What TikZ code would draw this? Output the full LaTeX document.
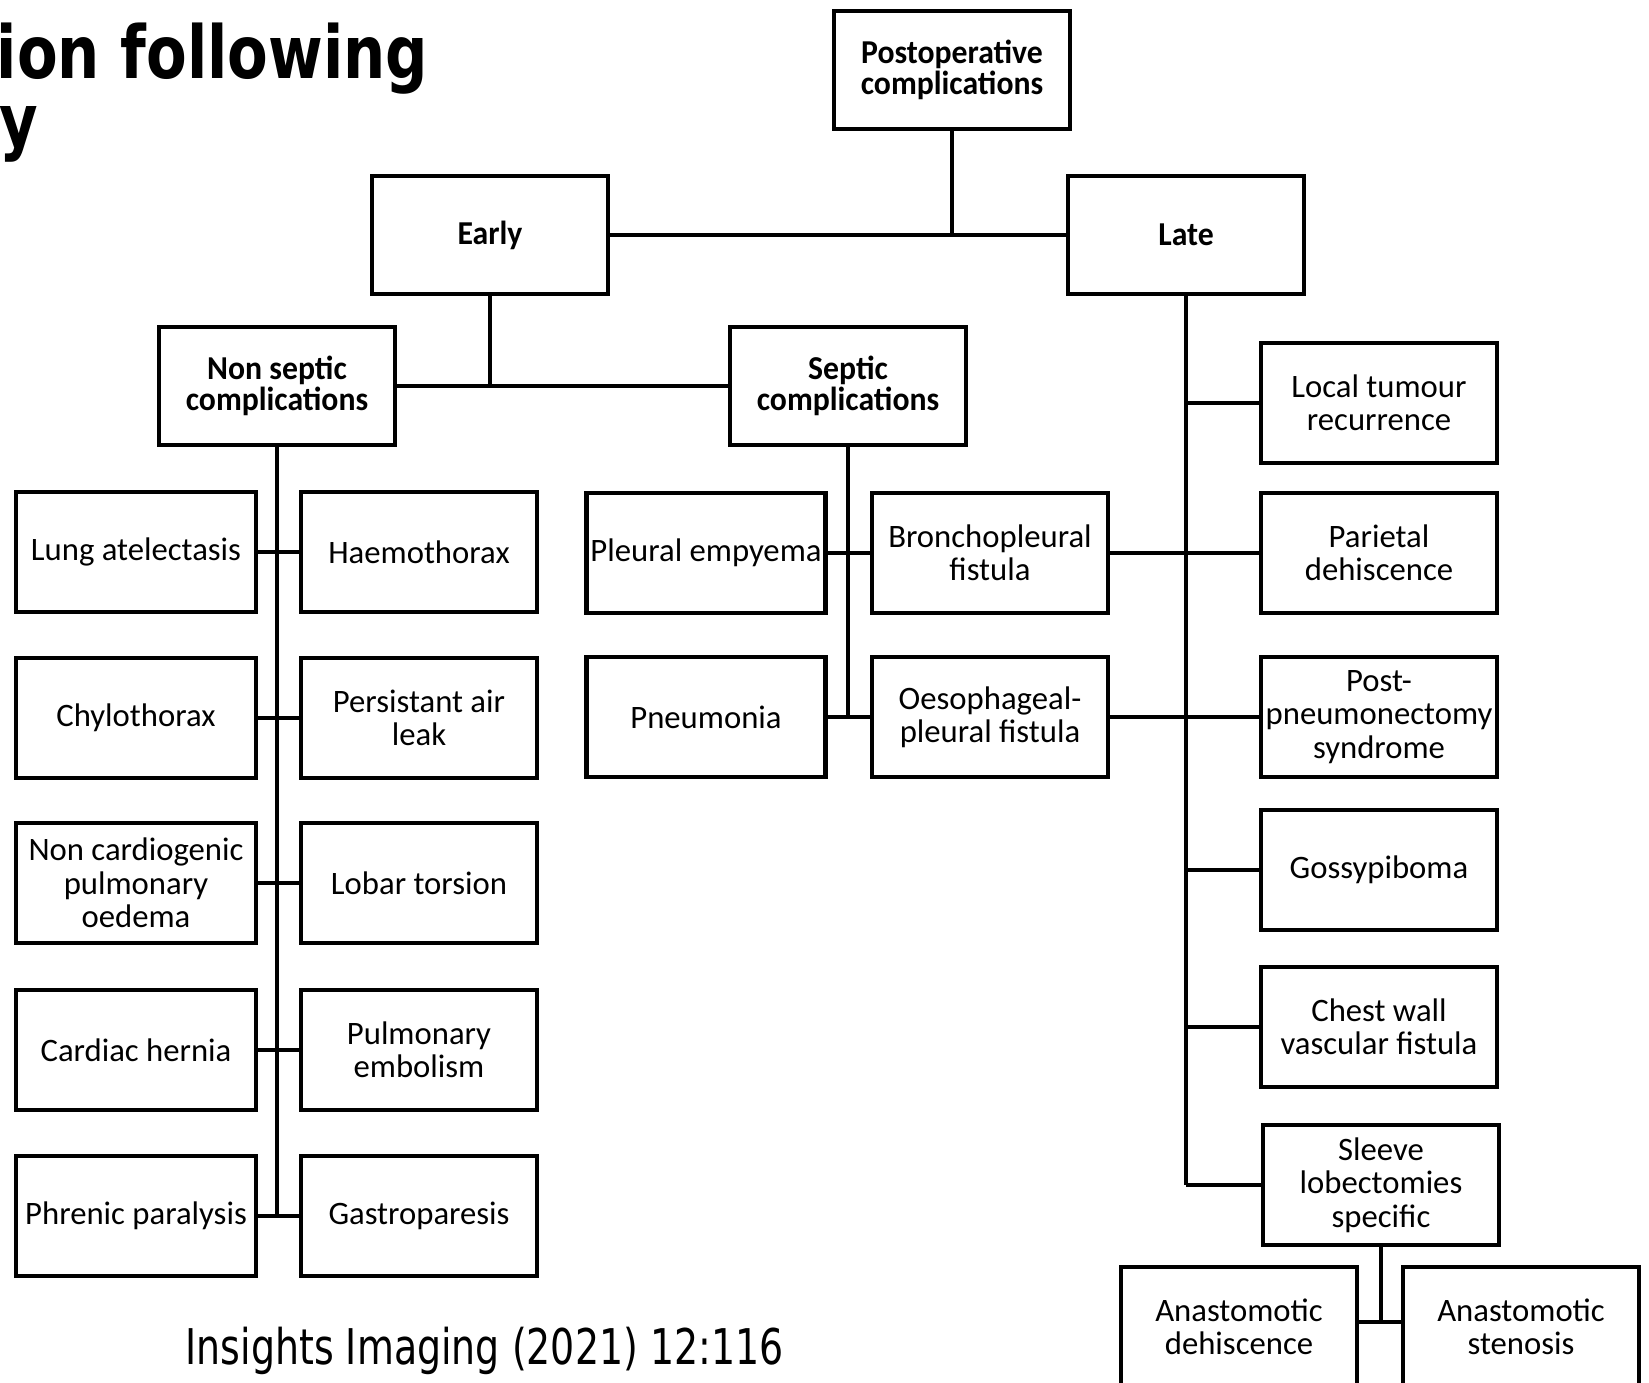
\documentclass[tikz,border=0pt]{standalone}
\usepackage{fontspec}
\setmainfont{Carlito}
\newfontfamily\titlefont[FakeStretch=0.81]{DejaVu Sans}
\newfontfamily\citefont[FakeStretch=0.77]{DejaVu Sans}
\newfontfamily\headfont[FakeStretch=0.95]{Carlito}
\usepackage{tikz}
\tikzset{
  cnode/.style = {align=center, inner sep=0pt, text centered, rectangle,
    draw=black, line width=1.2pt},
  cat_h/.style = {cnode, font=\headfont\bfseries\fontsize{9.5}{9}\selectfont,
    minimum width=2.36cm, minimum height=1.18cm},% categorie, en gras
  cat_l/.style = {cnode, font=\fontsize{9.3}{9.5}\selectfont,
    minimum width=2.36cm, minimum height=1.2cm},% feuille
  cat_e/.style = {line width=1.2pt}% trait
}

\begin{document}
\begin{tikzpicture}[x=0.01cm,y=-0.01cm]
\useasboundingbox (0,0) rectangle (1649,1383);
\clip (0,0) rectangle (1649,1383);

\node [anchor=base west, inner sep=0pt, text depth=0pt,
  font=\titlefont\bfseries\fontsize{20.8}{24}\selectfont] (ttl) at (-4,79) {ion following};
\node [anchor=base east, inner sep=0pt,
  font=\titlefont\bfseries\fontsize{20.8}{24}\selectfont] (ttlb) at (39,147) {y};
\node [anchor=base west, inner sep=0pt,
  font=\citefont\fontsize{14}{16}\selectfont] (cite) at (185,1364) {Insights Imaging (2021) 12:116};

\node [cat_h] (post) at (952,70) {Postoperative\\complications};
\node [cat_h] (early) at (490,235) {Early};
\node [cat_h] (late) at (1186,235) {Late};
\node [cat_h] (nonsep) at (277,386) {Non septic\\complications};
\node [cat_h] (sep) at (848,386) {Septic\\complications};

% non septic
\node [cat_l, minimum width=2.4cm] (lung) at (136,552) {Lung atelectasis};
\node [cat_l] (haem) at (419,552) {Haemothorax};
\node [cat_l, minimum width=2.4cm] (chyl) at (136,718) {Chylothorax};
\node [cat_l] (leak) at (419,718) {Persistant air\\leak};
\node [cat_l, minimum width=2.4cm] (oed) at (136,883) {Non cardiogenic\\pulmonary\\oedema};
\node [cat_l] (lob) at (419,883) {Lobar torsion};
\node [cat_l, minimum width=2.4cm] (hern) at (136,1050) {Cardiac hernia};
\node [cat_l] (emb) at (419,1050) {Pulmonary\\embolism};
\node [cat_l, minimum width=2.4cm] (phr) at (136,1216) {Phrenic paralysis};
\node [cat_l] (gast) at (419,1216) {Gastroparesis};

% septic
\node [cat_l, minimum width=2.39cm] (emp) at (706,553) {Pleural empyema};
\node [cat_l] (bron) at (990,553) {Bronchopleural\\fistula};
\node [cat_l, minimum width=2.39cm] (pneu) at (706,717) {Pneumonia};
\node [cat_l] (oes) at (990,717) {Oesophageal-\\pleural fistula};

% late
\node [cat_l] (loc) at (1379,403) {Local tumour\\recurrence};
\node [cat_l] (par) at (1379,553) {Parietal\\dehiscence};
\node [cat_l] (pp) at (1379,717) {Post-\\pneumonectomy\\syndrome};
\node [cat_l] (gos) at (1379,870) {Gossypiboma};
\node [cat_l] (chest) at (1379,1027) {Chest wall\\vascular fistula};
\node [cat_l] (slv) at (1381,1185) {Sleeve\\lobectomies\\specific};
\node [cat_l] (anl) at (1239,1327) {Anastomotic\\dehiscence};
\node [cat_l] (anr) at (1521,1327) {Anastomotic\\stenosis};

\coordinate (sj) at (1381,1322);

\draw [cat_e] (post.south) -- (post.south |- early.east);
\draw [cat_e] (early.east) -- (late.west);
\draw [cat_e] (early.south) -- (early.south |- nonsep.east);
\draw [cat_e] (nonsep.east) -- (sep.west);
\draw [cat_e] (nonsep.south) -- (nonsep.south |- phr.east);
\draw [cat_e] (sep.south) -- (sep.south |- pneu.east);
\draw [cat_e] (late.south) -- (late.south |- slv.west);
\foreach \a/\b in {lung/haem,chyl/leak,oed/lob,hern/emb,phr/gast,
  emp/bron,pneu/oes,bron/par,oes/pp}
  \draw [cat_e] (\a.east) -- (\b.west);
\foreach \c in {loc,gos,chest,slv}
  \draw [cat_e] (late.south |- \c.west) -- (\c.west);
\draw [cat_e] (slv.south) -- (sj);
\draw [cat_e] (anl.east |- sj) -- (anr.west |- sj);
\end{tikzpicture}
\end{document}
